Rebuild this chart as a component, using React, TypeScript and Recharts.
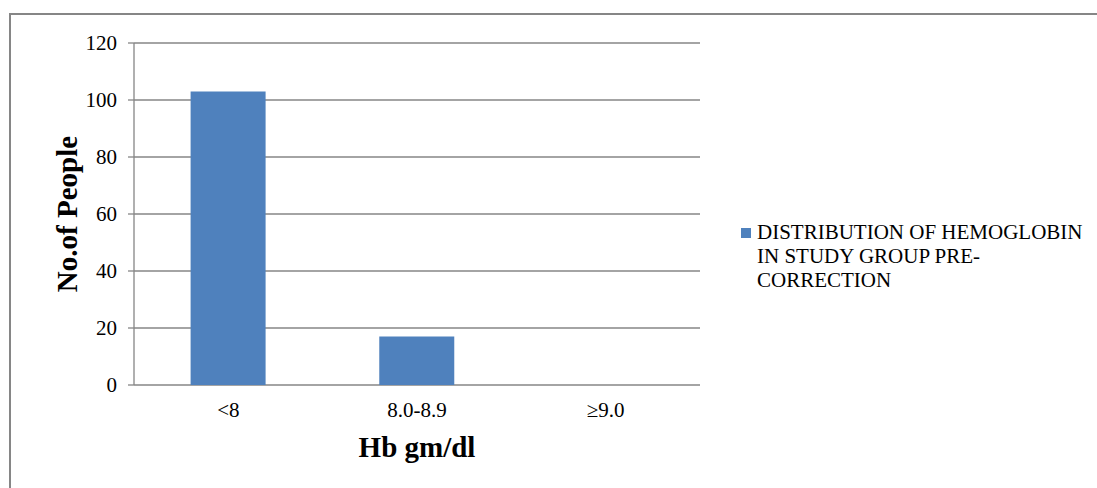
import React from 'react';
import { BarChart, Bar, XAxis, YAxis, CartesianGrid, Legend } from 'recharts';

const categories = ['<8', '8.0-8.9', '≥9.0'];
const counts = [103, 17, 0];
const yTicks = [0, 20, 40, 60, 80, 100, 120];
const edgeTicks = [0, 1, 2, 3];
const seriesName = 'DISTRIBUTION OF HEMOGLOBIN IN STUDY GROUP PRE-CORRECTION';

const data = categories.map((range, i) => ({ range, count: counts[i], pos: i + 0.5 }));

const serif = "'Liberation Serif', 'Times New Roman', serif";
const gray = '#868686';
const barColor = '#4F81BD';

function renderLegend(props: any) {
  const item = props.payload && props.payload[0];
  return (
    <div
      style={{
        position: 'relative',
        paddingLeft: 16,
        width: 335,
        fontFamily: serif,
        fontSize: 21,
        lineHeight: '24px',
        color: '#000',
        textAlign: 'left',
      }}
    >
      <span
        style={{
          position: 'absolute',
          left: 0,
          top: 8,
          width: 10,
          height: 10,
          background: item ? item.color : barColor,
        }}
      />
      {item ? item.value : seriesName}
    </div>
  );
}

export default function App() {
  return (
    <div
      style={{
        position: 'absolute',
        left: 0,
        top: 0,
        width: 1097,
        height: 488,
        overflow: 'hidden',
        background: '#fff',
      }}
    >
      {/* outer frame: only the top and left edges show in the picture */}
      <div
        style={{
          position: 'absolute',
          left: 9,
          top: 13,
          width: 1100,
          height: 480,
          borderTop: `2px solid ${gray}`,
          borderLeft: `2px solid ${gray}`,
        }}
      />
      <BarChart
        width={1097}
        height={488}
        data={data}
        margin={{ top: 43, right: 397, bottom: 0, left: 0 }}
        barCategoryGap="30%"
        style={{ position: 'absolute', left: 0, top: 0 }}
      >
        <CartesianGrid vertical={false} stroke={gray} strokeWidth={1.3} xAxisId="cat" />
        <XAxis
          xAxisId="edges"
          type="number"
          dataKey="pos"
          domain={[0, 3]}
          ticks={edgeTicks}
          interval={0}
          height={0}
          tickSize={6}
          tickFormatter={() => ''}
          axisLine={{ stroke: gray, strokeWidth: 1.3 }}
          tickLine={{ stroke: gray, strokeWidth: 1.3 }}
        />
        <XAxis
          xAxisId="cat"
          dataKey="range"
          height={103}
          axisLine={false}
          tickLine={false}
          tickSize={0}
          tickMargin={17}
          tick={{ fill: '#000', fontFamily: serif, fontSize: 21 }}
          label={{
            value: 'Hb gm/dl',
            position: 'center',
            dy: 10,
            fill: '#000',
            fontFamily: serif,
            fontSize: 29,
            fontWeight: 'bold',
          }}
        />
        <YAxis
          width={134}
          domain={[0, 120]}
          ticks={yTicks}
          interval={0}
          tickSize={6}
          tickMargin={11}
          axisLine={{ stroke: gray, strokeWidth: 1.3 }}
          tickLine={{ stroke: gray, strokeWidth: 1.3 }}
          tick={{ fill: '#000', fontFamily: serif, fontSize: 21 }}
          label={{
            value: 'No.of People',
            angle: -90,
            position: 'center',
            fill: '#000',
            fontFamily: serif,
            fontSize: 29,
            fontWeight: 'bold',
          }}
        />
        <Bar
          xAxisId="cat"
          dataKey="count"
          name={seriesName}
          fill={barColor}
          isAnimationActive={false}
        />
        <Legend
          layout="horizontal"
          align="center"
          verticalAlign="middle"
          content={renderLegend}
          wrapperStyle={{ left: 741, top: 220, width: 351 }}
        />
      </BarChart>
    </div>
  );
}
